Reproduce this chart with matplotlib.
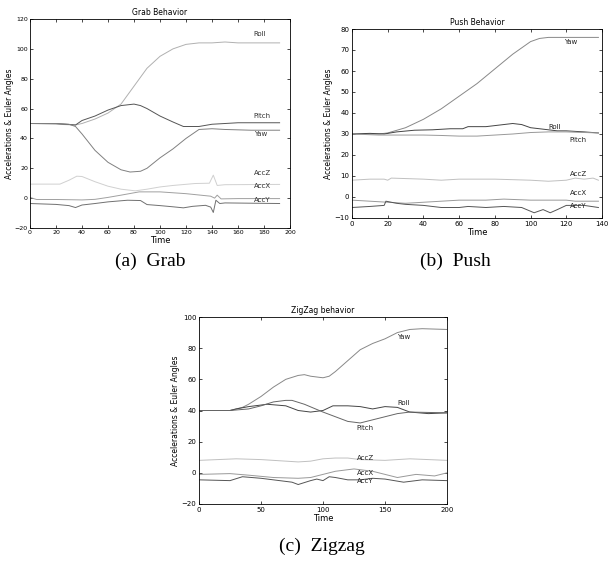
import matplotlib
matplotlib.use("Agg")
import matplotlib.pyplot as plt

W, H = 608, 572

# ---- Grab ----
grab_roll_t = [0, 20, 35, 40, 50, 60, 70, 80, 90, 100, 110, 120, 130, 140, 150, 160, 192]
grab_roll = [50, 49.5, 49, 50, 53, 57, 63, 75, 87, 95, 100, 103, 104, 104, 104.6, 104, 104]
grab_pitch_t = [0, 20, 35, 40, 50, 60, 70, 80, 85, 90, 100, 110, 118, 130, 140, 150, 160, 192]
grab_pitch = [50, 50, 49, 52, 55, 59, 62, 63, 62, 60, 55, 51, 48, 48, 49.5, 50, 50.5, 50.5]
grab_yaw_t = [0, 20, 30, 35, 40, 50, 60, 70, 77, 85, 90, 100, 110, 120, 130, 140, 150, 170, 192]
grab_yaw = [50, 50, 49.5, 48, 43, 32, 24, 19, 17.5, 18, 20, 27, 33, 40, 46, 46.5, 46, 45.5, 45.5]
grab_accz_t = [0, 23, 30, 36, 40, 50, 60, 70, 81, 90, 100, 110, 127, 138, 141, 144, 150, 192]
grab_accz = [9.4, 9.4, 12, 14.7, 14.5, 11, 8, 6, 4.9, 6, 7.5, 8.5, 9.8, 10, 15.4, 8.5, 9, 9.2]
grab_accx_t = [0, 5, 20, 40, 50, 60, 70, 84, 100, 120, 139, 142, 144, 147, 160, 192]
grab_accx = [0.5, -0.9, -0.9, -1.2, -0.8, 0.5, 2, 4.2, 4.2, 3, 1.3, 0, 2, -0.5, -0.3, -0.3]
grab_accy_t = [0, 20, 30, 35, 40, 50, 60, 75, 85, 90, 100, 110, 118, 125, 135, 139, 141, 143, 146, 150, 192]
grab_accy = [-3.6, -4.2, -5, -6.3, -4.6, -3.6, -2.5, -1.4, -1.6, -4.3, -5, -5.8, -6.5, -5.5, -4.8, -6, -9.6, -1.4, -3.6, -3.2, -3.6]

# ---- Push ----
push_yaw_t = [0, 15, 20, 30, 40, 50, 60, 70, 80, 90, 100, 105, 110, 120, 138]
push_yaw = [30, 30, 30.5, 33, 37, 42, 48, 54, 61, 68, 74, 75.5, 76, 76, 76]
push_roll_t = [0, 10, 18, 25, 35, 45, 55, 62, 65, 75, 80, 85, 90, 95, 100, 105, 110, 115, 120, 130, 138]
push_roll = [30, 30.3, 30, 31, 31.8, 32, 32.5, 32.5, 33.5, 33.5, 34, 34.5, 35, 34.5, 33, 32.5, 32, 31.5, 31.5, 31, 30.5]
push_pitch_t = [0, 15, 30, 40, 50, 60, 70, 80, 90, 100, 110, 120, 138]
push_pitch = [30, 29.5, 29.5, 29.5, 29.3, 29, 29, 29.5, 30, 30.7, 31, 31, 30.5]
push_accz_t = [0, 10, 18, 20, 22, 40, 50, 60, 80, 100, 110, 120, 125, 130, 135, 138]
push_accz = [8, 8.5, 8.5, 8, 9, 8.5, 8, 8.5, 8.5, 8, 7.5, 8, 9, 8.5, 9, 8]
push_accx_t = [0, 10, 20, 30, 50, 60, 75, 85, 100, 110, 120, 125, 138]
push_accx = [-1.5, -2, -2.5, -3, -2, -1.5, -1.5, -1, -1.5, -1.5, -1.5, -2, -2]
push_accy_t = [0, 10, 18, 19, 25, 30, 40, 50, 60, 65, 75, 85, 95, 102, 107, 111, 115, 120, 130, 138]
push_accy = [-5, -4.5, -4, -2, -3, -3.5, -4, -5, -5, -4.5, -5, -4.5, -5, -7.5, -6, -7.5, -6, -4, -4, -5]

# ---- Zigzag ----
zig_yaw_t = [0, 25, 35, 40, 50, 60, 70, 80, 85, 90, 100, 105, 110, 120, 130, 140, 150, 160, 170, 180, 200]
zig_yaw = [40, 40, 42, 44, 49, 55, 60, 62.5, 63, 62, 61, 62, 65, 72, 79, 83, 86, 90, 92, 92.5, 92]
zig_roll_t = [0, 25, 30, 40, 55, 70, 80, 90, 100, 108, 120, 130, 140, 150, 160, 170, 185, 200]
zig_roll = [40, 40, 41, 42.5, 44, 43, 40, 39, 40, 43, 43, 42.5, 41, 42.5, 42, 39, 38, 38.5]
zig_pitch_t = [0, 25, 40, 50, 60, 70, 75, 85, 100, 110, 120, 130, 140, 150, 160, 170, 200]
zig_pitch = [40, 40, 41, 43, 45.5, 46.5, 46.5, 44, 39, 36, 33, 32, 34, 36, 38, 39, 38.5]
zig_accz_t = [0, 30, 50, 70, 80, 90, 100, 110, 120, 130, 150, 170, 200]
zig_accz = [8, 9, 8.5, 7.5, 7, 7.5, 9, 9.5, 9.5, 8.5, 8, 9, 8]
zig_accx_t = [0, 25, 40, 60, 80, 90, 100, 110, 125, 140, 160, 175, 190, 200]
zig_accx = [-1, -0.5, -1.5, -3, -3.5, -3, -1, 1, 2.5, 1, -3, -1, -2, 0]
zig_accy_t = [0, 25, 35, 50, 65, 75, 80, 90, 95, 100, 105, 110, 120, 130, 140, 150, 165, 180, 200]
zig_accy = [-4.5, -5, -2.5, -3.5, -5, -6, -7.5, -5, -4, -5, -2.5, -3, -4.5, -4.5, -3.5, -4, -6, -4.5, -5]

names = ["Roll", "Pitch", "Yaw", "AccZ", "AccX", "AccY"]

fig = plt.figure(figsize=(W / 100, H / 100), dpi=100)


def make_ax(x0, y0, x1, y1):
    # pixel box (left, top, right, bottom) -> figure fraction
    return fig.add_axes([x0 / W, 1 - y1 / H, (x1 - x0) / W, (y1 - y0) / H])


def style(ax, title, xlim, ylim, xticks, yticks):
    ax.set_xlim(*xlim)
    ax.set_ylim(*ylim)
    ax.set_xticks(xticks)
    ax.set_yticks(yticks)
    ax.tick_params(direction="in", top=True, right=True, labelsize=5,
                   length=2.5, width=0.5, pad=2)
    for s in ax.spines.values():
        s.set_linewidth(0.6)
    ax.set_title(title, fontsize=5.5, pad=3)
    ax.set_xlabel("Time", fontsize=6, labelpad=1)
    ax.set_ylabel("Accelerations & Euler Angles", fontsize=5.5, labelpad=1)


lw = 0.7

# (a) Grab
ax = make_ax(30, 19, 290, 228)
ax.plot(grab_roll_t, grab_roll, color="#b0b0b0", lw=lw)
ax.plot(grab_pitch_t, grab_pitch, color="#555555", lw=lw)
ax.plot(grab_yaw_t, grab_yaw, color="#808080", lw=lw)
ax.plot(grab_accz_t, grab_accz, color="#d0d0d0", lw=lw)
ax.plot(grab_accx_t, grab_accx, color="#a0a0a0", lw=lw)
ax.plot(grab_accy_t, grab_accy, color="#707070", lw=lw)
style(ax, "Grab Behavior", (0, 200), (-20, 120), range(0, 201, 20), range(-20, 121, 20))
ax.tick_params(labelsize=4.5, pad=1.5)
ax.yaxis.set_label_coords(-0.062, 0.5)
for n, y in zip(names, [110, 55, 43, 17, 8, -1]):
    ax.text(172, y, n, fontsize=5, color="#333333", va="center")

# (b) Push
ax = make_ax(352, 29, 602, 218)
ax.plot(push_yaw_t, push_yaw, color="#888888", lw=lw)
ax.plot(push_roll_t, push_roll, color="#444444", lw=lw)
ax.plot(push_pitch_t, push_pitch, color="#999999", lw=lw)
ax.plot(push_accz_t, push_accz, color="#c0c0c0", lw=lw)
ax.plot(push_accx_t, push_accx, color="#999999", lw=lw)
ax.plot(push_accy_t, push_accy, color="#555555", lw=lw)
style(ax, "Push Behavior", (0, 140), (-10, 80), range(0, 141, 20), range(-10, 81, 10))
for n, x, y in zip(["Yaw", "Roll", "Pitch", "AccZ", "AccX", "AccY"],
                   [119, 110, 122, 122, 122, 122], [74, 33.5, 27, 11, 2, -4.5]):
    ax.text(x, y, n, fontsize=5, color="#222222", va="center")

# (c) Zigzag
ax = make_ax(199, 317, 447, 504)
ax.plot(zig_yaw_t, zig_yaw, color="#888888", lw=lw)
ax.plot(zig_roll_t, zig_roll, color="#444444", lw=lw)
ax.plot(zig_pitch_t, zig_pitch, color="#666666", lw=lw)
ax.plot(zig_accz_t, zig_accz, color="#c0c0c0", lw=lw)
ax.plot(zig_accx_t, zig_accx, color="#999999", lw=lw)
ax.plot(zig_accy_t, zig_accy, color="#555555", lw=lw)
style(ax, "ZigZag behavior", (0, 200), (-20, 100), range(0, 201, 50), range(-20, 101, 20))
for n, x, y in zip(["Yaw", "Roll", "Pitch", "AccZ", "AccX", "AccY"],
                   [160, 160, 127, 127, 127, 127], [87, 45, 29, 9.5, 0, -5.5]):
    ax.text(x, y, n, fontsize=5, color="#222222", va="center")

# captions
cap = dict(fontsize=14, family="Liberation Serif", ha="center", va="center")
fig.text(150 / W, 1 - 261 / H, "(a)  Grab", **cap)
fig.text(455 / W, 1 - 261 / H, "(b)  Push", **cap)
fig.text(322 / W, 1 - 546 / H, "(c)  Zigzag", **cap)

fig.savefig("out.png", dpi=100)
